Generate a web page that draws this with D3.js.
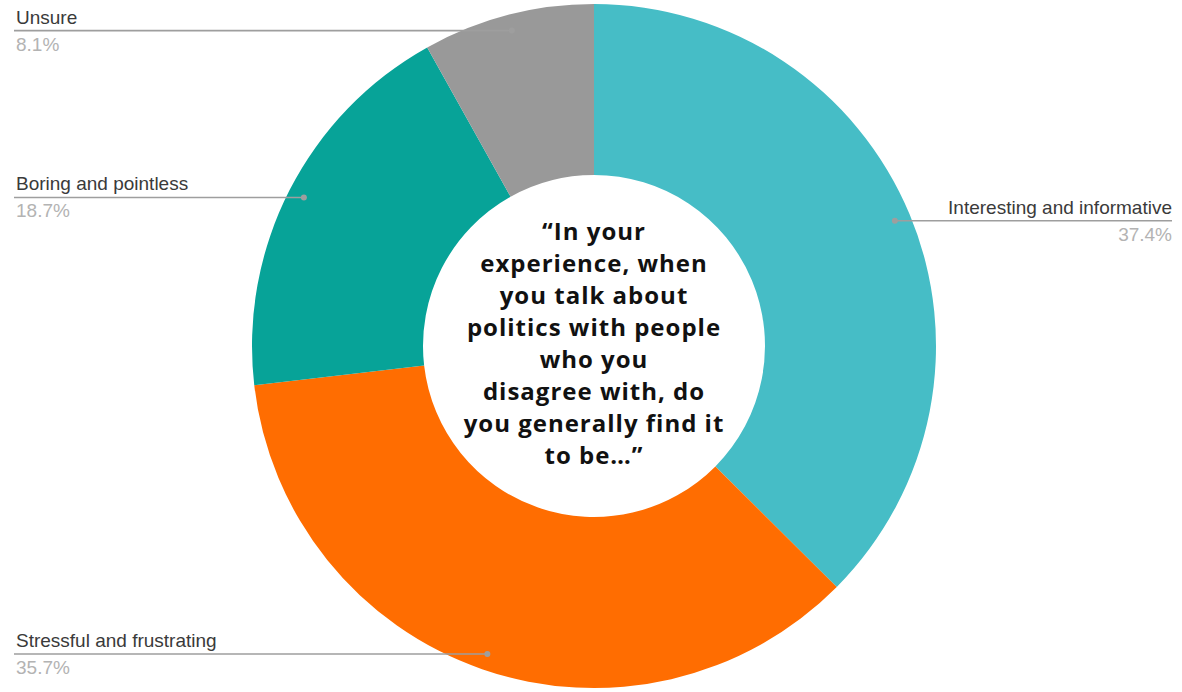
<!DOCTYPE html>
<html>
<head>
<meta charset="utf-8">
<script src="https://cdn.jsdelivr.net/npm/d3@7"></script>
<style>
  body { margin: 0; background: #fff; }
  svg { display: block; }
</style>
</head>
<body>
<svg id="chart" width="1182" height="692"></svg>
<script>
// Data, clockwise from 12 o'clock
const categories = ['Interesting and informative', 'Stressful and frustrating', 'Boring and pointless', 'Unsure'];
const values = [37.4, 35.7, 18.7, 8.1];
const colors = ['#46bdc6', '#ff6d01', '#07a398', '#999999'];
const questionLines = ['\u201CIn your', 'experience, when', 'you talk about', 'politics with people',
  'who you', 'disagree with, do', 'you generally find it', 'to be\u2026\u201D'];

const width = 1182, height = 692;
const cx = 594, cy = 346;
const outerR = 342, innerR = 171;

const svg = d3.select('#chart');
const g = svg.append('g').attr('transform', 'translate(' + cx + ',' + cy + ')');

const data = categories.map(function(c, i) { return { label: c, value: values[i], color: colors[i] }; });

const pie = d3.pie().value(function(d) { return d.value; }).sort(null);
const arc = d3.arc().innerRadius(innerR).outerRadius(outerR);
const arcs = pie(data);

g.selectAll('path.slice')
  .data(arcs)
  .enter()
  .append('path')
  .attr('class', 'slice')
  .attr('d', arc)
  .attr('fill', function(d) { return d.data.color; });

// Leader lines + labels (Google Sheets style)
const dotR = outerR * 0.953;
arcs.forEach(function(d) {
  const a = (d.startAngle + d.endAngle) / 2;
  const px = dotR * Math.sin(a);
  const py = -dotR * Math.cos(a);
  const right = px > 0;
  const endX = right ? (1172 - cx) : (14 - cx);

  g.append('line')
    .attr('x1', px).attr('y1', py)
    .attr('x2', endX).attr('y2', py)
    .attr('stroke', '#9e9e9e')
    .attr('stroke-width', 1.6);

  g.append('circle')
    .attr('cx', px).attr('cy', py).attr('r', 3)
    .attr('fill', '#9e9e9e');

  g.append('text')
    .attr('x', endX + (right ? 0 : 2)).attr('y', py - 7)
    .attr('text-anchor', right ? 'end' : 'start')
    .attr('font-family', 'Liberation Sans, Arial, sans-serif')
    .attr('font-size', 19)
    .attr('fill', '#3a3a3a')
    .text(d.data.label);

  g.append('text')
    .attr('x', endX + (right ? 0 : 2)).attr('y', py + 20)
    .attr('text-anchor', right ? 'end' : 'start')
    .attr('font-family', 'Liberation Sans, Arial, sans-serif')
    .attr('font-size', 19)
    .attr('fill', '#b3b3b3')
    .text(d.data.value.toFixed(1) + '%');
});

// Question in the hole
const lineH = 32;
const firstY = 240 - cy;
g.append('text')
  .attr('text-anchor', 'middle')
  .attr('font-family', 'Open Sans, sans-serif')
  .attr('font-weight', 700)
  .attr('font-size', 24)
  .attr('letter-spacing', 1)
  .attr('fill', '#111')
  .selectAll('tspan')
  .data(questionLines)
  .enter()
  .append('tspan')
  .attr('x', 0)
  .attr('y', function(d, i) { return firstY + i * lineH; })
  .text(function(d) { return d; });
</script>
</body>
</html>
